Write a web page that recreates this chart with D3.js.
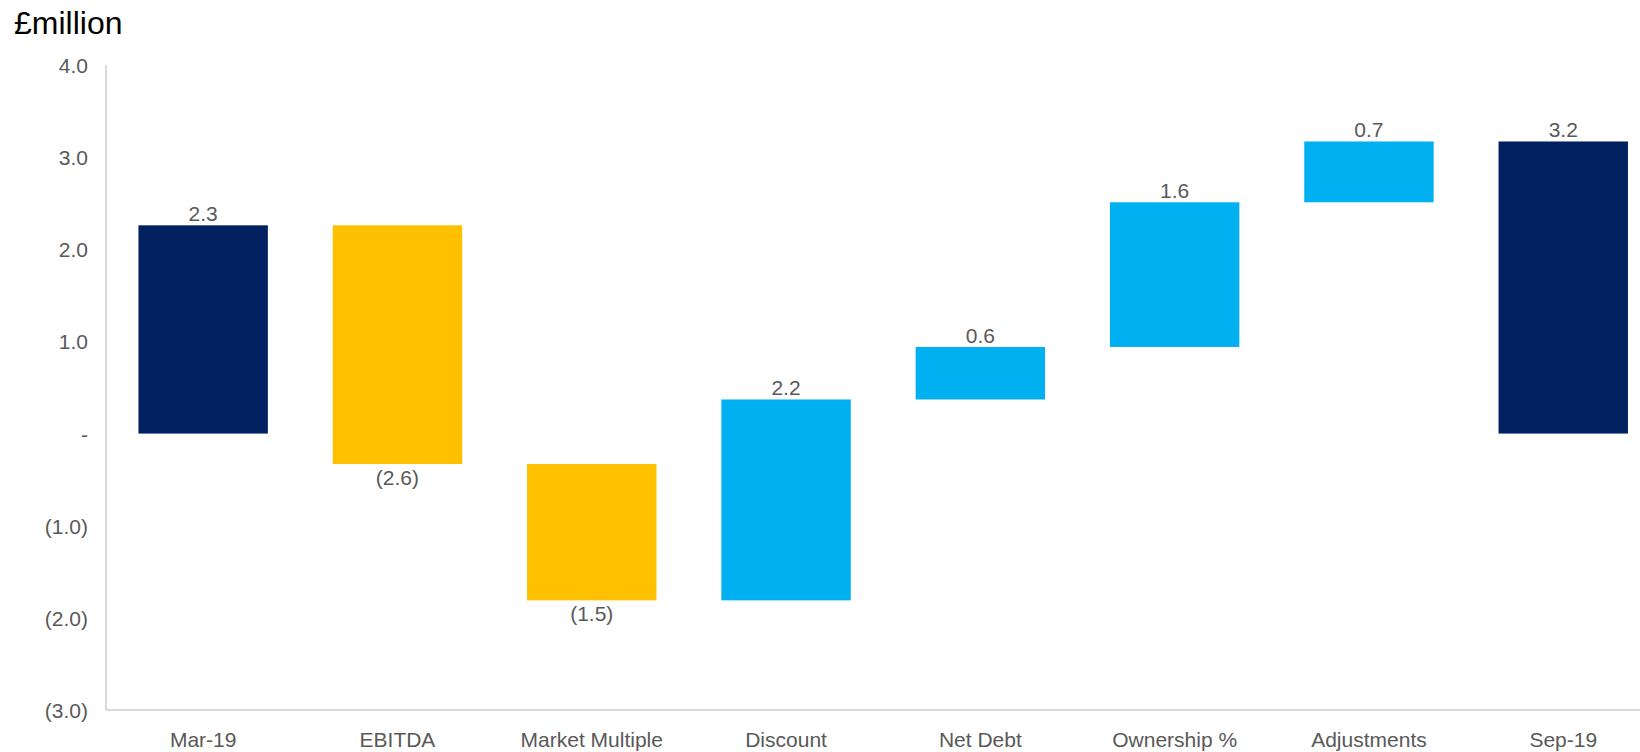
<!DOCTYPE html>
<html>
<head>
<meta charset="utf-8">
<script src="https://cdn.jsdelivr.net/npm/d3@7"></script>
<style>
  html, body { margin: 0; padding: 0; background: #fff; }
  svg { display: block; font-family: "Liberation Sans", Arial, sans-serif; }
</style>
</head>
<body>
<svg id="chart" width="1640" height="752"></svg>
<script>
// Valuation bridge, £million
const categories = ["Mar-19", "EBITDA", "Market Multiple", "Discount", "Net Debt", "Ownership %", "Adjustments", "Sep-19"];
const openingValue = 2.26;
const movements = [-2.59, -1.48, 2.18, 0.57, 1.57, 0.66];
const yTicks = [-3, -2, -1, 0, 1, 2, 3, 4];

const colors = { total: "#002060", down: "#FFC000", up: "#00B0F0" };

// Build waterfall segments: opening total, movements, closing total
const segments = [];
segments.push({ cat: categories[0], start: 0, end: openingValue, value: openingValue, kind: "total" });
let running = openingValue;
movements.forEach((m, i) => {
  segments.push({ cat: categories[i + 1], start: running, end: running + m, value: m, kind: m < 0 ? "down" : "up" });
  running += m;
});
segments.push({ cat: categories[categories.length - 1], start: 0, end: running, value: running, kind: "total" });

const svg = d3.select("#chart");
const plot = { left: 106, top: 65, bottom: 710 };
const step = 194.3;

const x = d3.scaleBand()
  .domain(categories)
  .range([plot.left, plot.left + step * categories.length])
  .paddingInner(0.334)
  .paddingOuter(0.167);

const y = d3.scaleLinear().domain([-3, 4]).range([plot.bottom, plot.top]);

const fmt = v => {
  const r = Math.round(Math.abs(v) * 10) / 10;
  if (r === 0) return "-";
  const s = r.toFixed(1);
  return v < 0 ? "(" + s + ")" : s;
};

// Axis lines
svg.append("line")
  .attr("x1", plot.left).attr("x2", plot.left)
  .attr("y1", plot.top).attr("y2", plot.bottom)
  .attr("stroke", "#d9d9d9").attr("stroke-width", 2);
svg.append("line")
  .attr("x1", plot.left).attr("x2", 1640)
  .attr("y1", plot.bottom).attr("y2", plot.bottom)
  .attr("stroke", "#d9d9d9").attr("stroke-width", 2);

// Y axis labels
const yAxis = d3.axisLeft(y).tickValues(yTicks).tickSize(0).tickPadding(18).tickFormat(fmt);
svg.append("g")
  .attr("transform", `translate(${plot.left},0)`)
  .call(yAxis)
  .call(g => g.select(".domain").remove())
  .call(g => g.selectAll("text")
    .attr("fill", "#595959")
    .attr("font-size", 21)
    .attr("font-family", "Liberation Sans, Arial, sans-serif")
    .attr("dy", "0.36em"));

// X axis labels
const xAxis = d3.axisBottom(x).tickSize(0).tickPadding(22);
svg.append("g")
  .attr("transform", `translate(0,${plot.bottom})`)
  .call(xAxis)
  .call(g => g.select(".domain").remove())
  .call(g => g.selectAll("text")
    .attr("fill", "#595959")
    .attr("font-size", 21)
    .attr("font-family", "Liberation Sans, Arial, sans-serif"));

// Bars
svg.append("g").selectAll("rect")
  .data(segments)
  .join("rect")
  .attr("x", d => x(d.cat))
  .attr("width", x.bandwidth())
  .attr("y", d => y(Math.max(d.start, d.end)))
  .attr("height", d => Math.abs(y(d.start) - y(d.end)))
  .attr("fill", d => colors[d.kind]);

// Value labels
svg.append("g").selectAll("text")
  .data(segments)
  .join("text")
  .attr("x", d => x(d.cat) + x.bandwidth() / 2)
  .attr("y", d => d.value < 0 ? y(Math.min(d.start, d.end)) + 21 : y(Math.max(d.start, d.end)) - 4)
  .attr("text-anchor", "middle")
  .attr("fill", "#595959")
  .attr("font-size", 21)
  .text(d => fmt(d.value));

// Unit title
svg.append("text")
  .attr("x", 14).attr("y", 34)
  .attr("fill", "#000")
  .attr("font-size", 32)
  .text("£million");
</script>
</body>
</html>
